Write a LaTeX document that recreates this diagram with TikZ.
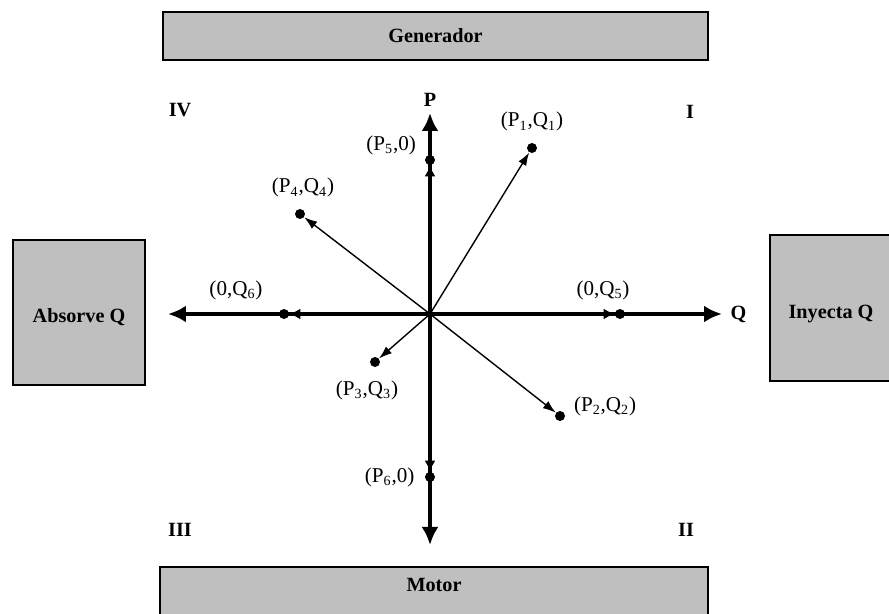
\documentclass[tikz,border=0pt]{standalone}
\usepackage{fontspec}
\setmainfont{Liberation Serif}
\usetikzlibrary{arrows.meta,positioning}

\begin{document}
\begin{tikzpicture}[every node/.style={font=\fontsize{12}{14}\selectfont},
	panel/.style={draw, line width=1.1pt, fill=black!25},
	title/.style={font=\fontsize{11.5}{14}\selectfont\bfseries},
	dot/.style={circle, fill, inner sep=0pt, minimum size=2mm},
	axis/.style={line width=2.3pt, -{Latex[length=3.6mm,width=3.4mm]}},
	vec/.style={line width=0.8pt, -{Latex[length=2.6mm,width=1.8mm]}},
	axvec/.style={line width=2.3pt, -{Latex[length=2.2mm,width=2.2mm]}}]
	\useasboundingbox (-8.6,-6.0) rectangle (9.18,6.28);
	% boxes
	\draw[panel] (-5.34,6.04) rectangle (5.56,5.08);
	\node[title] (gen) at (0.11,5.56) {Generador};
	\draw[panel] (-5.4,-5.06) rectangle (5.56,-6.3);
	\node[title] (motor) at (0.08,-5.42) {Motor};
	\draw[panel] (-8.34,1.48) rectangle (-5.7,-1.42);
	\node[title] (absq) at (-7.02,-0.06) {Absorve Q};
	\draw[panel] (6.8,1.58) rectangle (9.5,-1.34);
	\node[title] (inyq) at (8.02,0.0) {Inyecta Q};
	% axes
	\coordinate (o) at (0,0);
	\coordinate (top) at (0,4.02);
	\coordinate (bot) at (0,-4.62);
	\coordinate (lft) at (-5.24,0);
	\coordinate (rgt) at (5.84,0);
	\foreach \e in {top,bot,lft,rgt}
		\draw[axis] (o) -- (\e);
	\node[title, above=0pt of top] (plab) {P};
	\node[title, right=0.05cm of rgt] (qlab) {Q};
	\node[title] (qiv) at (-5.0,4.08) {IV};
	\node[title] (qi) at (5.2,4.04) {I};
	\node[title] (qiii) at (-5.0,-4.32) {III};
	\node[title] (qii) at (5.12,-4.32) {II};
	% points
	\foreach \n/\x/\y in {p1/2.04/3.32, p2/2.6/-2.04, p3/-1.1/-0.96, p4/-2.6/2.0,
		p5/0/3.08, p6/0/-3.26, q5/3.8/0, q6/-2.92/0}
		\node[dot] (\n) at (\x,\y) {};
	\foreach \n in {p1,p2,p3,p4}
		\draw[vec] (o) -- (\n);
	\foreach \n in {p5,p6,q5,q6}
		\draw[axvec] (o) -- (\n);
	\node[above=0.1cm of p1] (l1) {(P\textsubscript{1},Q\textsubscript{1})};
	\node[right=0.05cm of p2, yshift=0.2cm] (l2) {(P\textsubscript{2},Q\textsubscript{2})};
	\node[below=0.15cm of p3, xshift=-0.16cm] (l3) {(P\textsubscript{3},Q\textsubscript{3})};
	\node[above=0.1cm of p4, xshift=0.06cm] (l4) {(P\textsubscript{4},Q\textsubscript{4})};
	\node[left=0.05cm of p5, yshift=0.3cm] (l5) {(P\textsubscript{5},0)};
	\node[left=0.08cm of p6] (l6) {(P\textsubscript{6},0)};
	\node[above=0.05cm of q5, xshift=-0.34cm] (l7) {(0,Q\textsubscript{5})};
	\node[above=0.05cm of q6, xshift=-0.96cm] (l8) {(0,Q\textsubscript{6})};
\end{tikzpicture}
\end{document}
